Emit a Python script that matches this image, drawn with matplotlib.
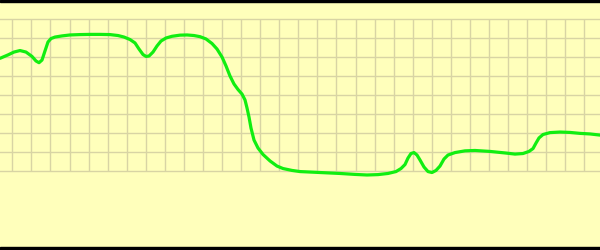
import matplotlib
matplotlib.use("Agg")
import matplotlib.pyplot as plt
from matplotlib.patches import Rectangle

# sample positions along the trace (x) and the level in grid units (y)
x = [0, 8, 14, 20, 26, 32, 36, 39, 42, 45, 48, 51, 55, 62, 70, 80, 90, 100,
     110, 118, 124, 130, 135, 139, 143, 146, 149, 153, 157, 161, 166, 172,
     180, 187, 194, 200, 206, 212, 217, 222, 226, 230, 234, 238, 242, 245,
     247, 249, 251, 254, 258, 263, 270, 277, 283, 292, 300, 320, 340, 355,
     367, 378, 388, 396, 401, 405, 408, 411, 414, 417, 420, 424, 428, 432,
     436, 440, 444, 448, 455, 465, 475, 490, 505, 515, 523, 529, 533, 536,
     539, 543, 550, 560, 570, 580, 590, 600]
y = [5.93, 6.11, 6.26, 6.34, 6.26, 6.03, 5.79, 5.70, 5.84, 6.32, 6.79, 6.97,
     7.05, 7.11, 7.16, 7.18, 7.19, 7.19, 7.18, 7.13, 7.05, 6.92, 6.74, 6.42,
     6.13, 6.03, 6.05, 6.26, 6.58, 6.84, 7.00, 7.09, 7.15, 7.16, 7.13, 7.07,
     6.95, 6.71, 6.42, 6.00, 5.53, 5.00, 4.58, 4.29, 4.05, 3.74, 3.32, 2.84,
     2.26, 1.63, 1.21, 0.87, 0.53, 0.26, 0.13, 0.03, -0.03, -0.08, -0.13,
     -0.18, -0.21, -0.19, -0.13, -0.03, 0.13, 0.34, 0.68, 0.92, 0.97, 0.84,
     0.58, 0.21, -0.03, -0.08, 0.03, 0.26, 0.63, 0.84, 0.97, 1.06, 1.08, 1.03,
     0.95, 0.89, 0.92, 1.03, 1.18, 1.47, 1.74, 1.92, 2.02, 2.05, 2.03, 1.98,
     1.95, 1.89]

grid_rows = list(range(0, 9))
grid_cols = [12.3 + 19.07 * k for k in range(31)]

bg = "#ffffbb"
grid_color = "#d8d4a4"

fig = plt.figure(figsize=(6, 2.5), dpi=100)
fig.patch.set_facecolor(bg)
ax = fig.add_axes([0, 0, 1, 1])
ax.set_facecolor(bg)
ax.set_xlim(0, 600)
ax.set_ylim(-4.158, 9.0)
ax.axis("off")

for r in grid_rows:
    ax.axhline(r, color=grid_color, lw=1.0, zorder=1)
ax.vlines(grid_cols, 0, 8, color=grid_color, lw=1.0, zorder=1)

ax.plot(x, y, color="#11ee11", lw=2.3, solid_joinstyle="round",
        solid_capstyle="round", zorder=3)

# black bands at top and bottom edges
fig.patches.append(Rectangle((0, 1 - 2 / 250), 1, 2 / 250, transform=fig.transFigure,
                             color="black", zorder=5))
fig.patches.append(Rectangle((0, 0), 1, 3 / 250, transform=fig.transFigure,
                             color="black", zorder=5))

fig.savefig("out.png", dpi=100, facecolor=bg)
